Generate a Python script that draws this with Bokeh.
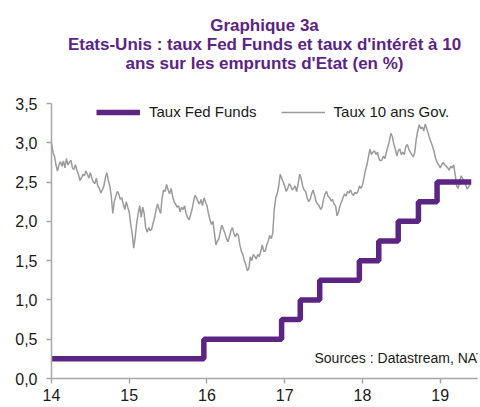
from bokeh.plotting import figure
from bokeh.models import Label, Legend, LegendItem, FixedTicker, CustomJSTickFormatter, Range1d, Title
from bokeh.embed import file_html
from bokeh.resources import INLINE

# --- Data -----------------------------------------------------------------
title_lines = ["Graphique 3a",
               "Etats-Unis : taux Fed Funds et taux d'intérêt à 10",
               "ans sur les emprunts d'Etat (en %)"]
series_names = ["Taux Fed Funds", "Taux 10 ans Gov."]
source_text = "Sources : Datastream, NATIXIS"

# Fed Funds (upper bound) : change dates (decimal year, 14 = 2014) and levels
fed_dates = [14.0, 15.96, 16.96, 17.20, 17.45, 17.96, 18.21, 18.46, 18.72, 18.96, 19.40]
fed_levels = [0.25, 0.50, 0.75, 1.00, 1.25, 1.50, 1.75, 2.00, 2.25, 2.50, 2.50]

# 10-year government yield, weekly readings from 2014 onward
ten_year_start = 14.0
ten_year_weeks_per_year = 52
ten_year = [
    # 2014
    3.00, 2.88, 2.83, 2.72, 2.64, 2.72, 2.76, 2.70, 2.77, 2.68, 2.80, 2.72, 2.75,
    2.78, 2.68, 2.66, 2.72, 2.65, 2.60, 2.52, 2.55, 2.60, 2.58, 2.64, 2.60, 2.55,
    2.62, 2.55, 2.50, 2.48, 2.55, 2.45, 2.42, 2.36, 2.40, 2.45, 2.55, 2.62, 2.52,
    2.45, 2.32, 2.10, 2.25, 2.32, 2.38, 2.35, 2.28, 2.30, 2.22, 2.15, 2.25, 2.18,
    # 2015
    2.12, 1.96, 1.84, 1.66, 1.80, 1.98, 2.10, 2.20, 2.05, 2.18, 2.10, 1.92, 1.86,
    1.92, 1.88, 1.90, 1.98, 2.05, 2.15, 2.22, 2.15, 2.10, 2.30, 2.40, 2.38, 2.47,
    2.40, 2.35, 2.42, 2.32, 2.25, 2.22, 2.18, 2.20, 2.12, 2.18, 2.15, 2.20, 2.10,
    2.05, 2.02, 2.08, 2.15, 2.25, 2.33, 2.30, 2.25, 2.22, 2.28, 2.20, 2.30, 2.25,
    # 2016
    2.20, 2.10, 2.02, 1.96, 2.00, 1.85, 1.70, 1.75, 1.78, 1.88, 1.95, 1.90, 1.85,
    1.78, 1.74, 1.80, 1.88, 1.92, 1.85, 1.80, 1.85, 1.82, 1.70, 1.62, 1.58, 1.50,
    1.45, 1.37, 1.40, 1.55, 1.50, 1.58, 1.55, 1.52, 1.58, 1.55, 1.62, 1.70, 1.62,
    1.62, 1.70, 1.75, 1.82, 1.78, 1.85, 2.15, 2.30, 2.35, 2.45, 2.60, 2.55, 2.50,
    # 2017
    2.45, 2.38, 2.42, 2.48, 2.45, 2.40, 2.42, 2.45, 2.38, 2.48, 2.60, 2.55, 2.45,
    2.40, 2.38, 2.30, 2.25, 2.28, 2.35, 2.40, 2.33, 2.25, 2.22, 2.20, 2.15, 2.18,
    2.28, 2.35, 2.38, 2.32, 2.30, 2.26, 2.28, 2.22, 2.20, 2.07, 2.12, 2.20, 2.25,
    2.30, 2.35, 2.32, 2.38, 2.36, 2.40, 2.35, 2.33, 2.37, 2.35, 2.38, 2.45, 2.42,
    # 2018
    2.46, 2.55, 2.65, 2.72, 2.82, 2.92, 2.85, 2.88, 2.90, 2.85, 2.88, 2.80, 2.77,
    2.78, 2.83, 2.80, 2.88, 2.95, 3.02, 3.12, 3.08, 2.98, 2.92, 2.83, 2.90, 2.92,
    2.85, 2.88, 2.85, 2.95, 2.98, 2.92, 2.88, 2.85, 2.82, 2.88, 3.05, 3.15, 3.23,
    3.18, 3.20, 3.15, 3.24, 3.18, 3.12, 3.05, 3.00, 2.95, 2.88, 2.80, 2.75, 2.72,
    # 2019
    2.68, 2.72, 2.75, 2.72, 2.70, 2.68, 2.65, 2.70, 2.68, 2.72, 2.60, 2.45, 2.42,
    2.50, 2.58, 2.55, 2.50, 2.47, 2.41, 2.44, 2.47,
]
ten_year_dates = [ten_year_start + i / ten_year_weeks_per_year for i in range(len(ten_year))]

x_ticks = [14, 15, 16, 17, 18, 19]
y_ticks = [0.0, 0.5, 1.0, 1.5, 2.0, 2.5, 3.0, 3.5]

# --- Style ----------------------------------------------------------------
PURPLE = "#5C2483"
GREY = "#9B9B9B"
AXIS_GREY = "#A6A6A6"
FONT = "Liberation Sans"

p = figure(width=479, height=405, output_backend="svg", toolbar_location=None,
           x_range=Range1d(14.0, 19.48), y_range=Range1d(0.0, 3.5),
           min_border_left=51, min_border_right=2, min_border_top=103, min_border_bottom=27)
p.outline_line_color = None
p.grid.grid_line_color = None
p.background_fill_color = "white"
p.border_fill_color = "white"

r_ten = p.line(ten_year_dates, ten_year, line_color=GREY, line_width=1.5)
r_fed = p.step(fed_dates, fed_levels, mode="after", line_color=PURPLE, line_width=5.5)

for ax in (p.xaxis[0], p.yaxis[0]):
    ax.axis_line_color = AXIS_GREY
    ax.axis_line_width = 1.5
    ax.major_tick_line_color = AXIS_GREY
    ax.major_tick_line_width = 1.5
    ax.major_tick_in = 0
    ax.major_tick_out = 5
    ax.minor_tick_line_color = None
    ax.major_label_text_font = FONT
    ax.major_label_text_font_size = "16px"
    ax.major_label_text_color = "#1a1a1a"

p.xaxis.ticker = FixedTicker(ticks=x_ticks)
p.yaxis.ticker = FixedTicker(ticks=y_ticks)
p.yaxis.formatter = CustomJSTickFormatter(code="return tick.toFixed(1).replace('.', ',');")
p.xaxis.major_label_standoff = 5
p.yaxis.major_label_standoff = 9

legend = Legend(items=[LegendItem(label=series_names[0], renderers=[r_fed]),
                       LegendItem(label=series_names[1], renderers=[r_ten])],
                orientation="horizontal", location=(45, 258),
                padding=0, margin=0, spacing=24, label_standoff=9,
                glyph_width=44, glyph_height=16, label_height=16,
                label_text_font=FONT, label_text_font_size="15px",
                label_text_color="#1a1a1a",
                background_fill_alpha=0, border_line_color=None)
p.add_layout(legend, "center")

# Empty spacer between the frame and the title block
p.add_layout(Title(text=" ", standoff=11, text_font=FONT, text_font_size="17px"), "above")
# Title lines, each centred; the last line is the closest to the plot frame
for txt in reversed(title_lines):
    p.add_layout(Title(text=txt, align="center", offset=8, standoff=-2,
                       text_font=FONT, text_font_size="17px", text_font_style="bold",
                       text_color=PURPLE), "above")

p.add_layout(Label(x=263, y=21, x_units="screen", y_units="screen", text=source_text,
                   text_align="left", text_baseline="middle",
                   text_font=FONT, text_font_size="14px", text_color="#1a1a1a"))

open("out.html", "w").write(file_html(p, INLINE))
